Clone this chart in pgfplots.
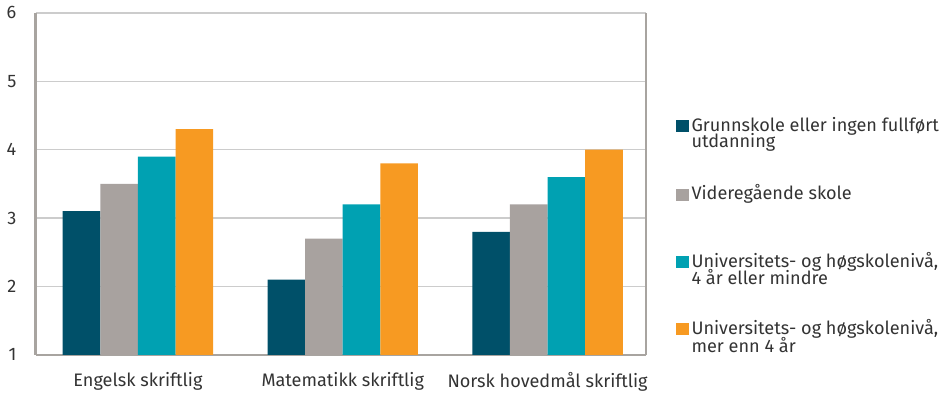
\documentclass[border=0pt]{standalone}
\usepackage{pgfplots}
\pgfplotsset{compat=1.18}
\usepackage{fontspec}
\setmainfont{Fira Sans}
\definecolor{cdark}{HTML}{005069}
\definecolor{cgray}{HTML}{A8A29F}
\definecolor{cteal}{HTML}{00A1B2}
\definecolor{corange}{HTML}{F79A22}
\definecolor{ctext}{HTML}{333333}
\definecolor{caxis}{HTML}{A8A4A0}
\definecolor{cgrid}{HTML}{CCCCCC}
\newcommand{\legtxt}[2]{\vtop to 30.5pt{\hbox{\strut #1}\vskip-2.5pt\hbox{\strut #2}\vfil}}
\begin{document}
\begin{tikzpicture}
\begin{axis}[
  scale only axis,
  width=303.5pt, height=170pt,
  ybar=0pt, bar width=18.7pt,
  ymin=1, ymax=6, ytick={1,2,3,4,5,6},
  xmin=-0.5, xmax=2.48,
  xtick={0,1,2},
  xticklabels={Engelsk skriftlig, Matematikk skriftlig, Norsk hovedmål skriftlig},
  major tick length=0pt,
  axis x line*=bottom, axis y line*=box,
  axis line style={-, draw=caxis, line width=1.1pt},
  ymajorgrids, grid style={cgrid, line width=0.6pt},
  tick label style={font=\fontsize{9}{10}\selectfont, text=ctext},
  /pgf/number format/assume math mode=true,
  yticklabel style={xshift=-6pt},
  xticklabel style={yshift=-5pt},
  legend cell align=left,
  legend style={draw=none, fill=none, at={(1,0.705)}, xshift=15pt, anchor=north west,
    font=\fontsize{9}{9}\selectfont, text=ctext, row sep=0pt, inner sep=0pt,
    nodes={inner sep=1.5pt, text depth=}, cells={anchor=base west}},
  legend image code/.code={\fill[#1] (0pt,-0.5pt) rectangle (6pt,5.5pt);},
]
\addplot[fill=cdark, draw=none] coordinates {(0,3.1) (1,2.1) (2,2.8)};
\addplot[fill=cgray, draw=none] coordinates {(0,3.5) (1,2.7) (2,3.2)};
\addplot[fill=cteal, draw=none] coordinates {(0,3.9) (1,3.2) (2,3.6)};
\addplot[fill=corange, draw=none] coordinates {(0,4.3) (1,3.8) (2,4.0)};
\legend{\legtxt{Grunnskole eller ingen fullført}{utdanning},
        \legtxt{Videregående skole}{},
        \legtxt{Universitets- og høgskolenivå,}{4 år eller mindre},
        \legtxt{Universitets- og høgskolenivå,}{mer enn 4 år}}
\end{axis}
\end{tikzpicture}
\end{document}
